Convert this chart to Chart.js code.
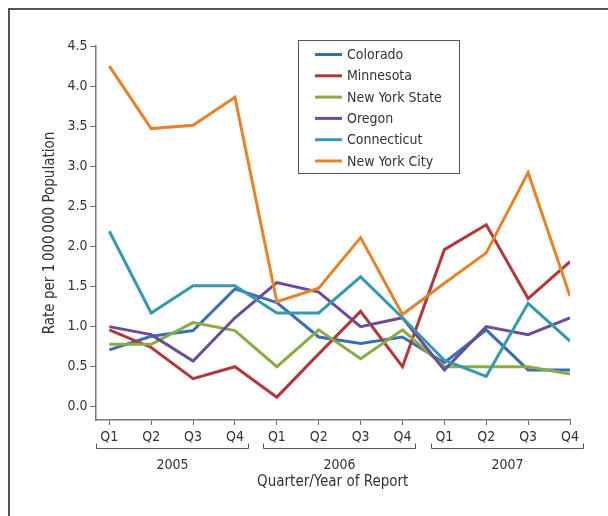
<!DOCTYPE html>
<html>
<head>
<meta charset="utf-8">
<script src="https://cdn.jsdelivr.net/npm/chart.js@4"></script>
<style>
  body{margin:0;background:#fff;}
  #wrap{position:relative;width:608px;height:516px;overflow:hidden;}
  #frame{position:absolute;left:8px;top:8px;width:620px;height:540px;border-top:2px solid #555;border-left:2px solid #555;}
  canvas{position:absolute;left:0;top:0;}
</style>
</head>
<body>
<div id="wrap">
  <div id="frame"></div>
  <canvas id="c" width="608" height="516"></canvas>
</div>
<script>
const FONT = '"DejaVu Sans Condensed", "Liberation Sans", sans-serif';

// data
const quarters = ['Q1','Q2','Q3','Q4','Q1','Q2','Q3','Q4','Q1','Q2','Q3','Q4'];
const years = ['2005','2006','2007'];
const yTicks = [0,0.5,1,1.5,2,2.5,3,3.5,4,4.5];

const seriesNames = ['Colorado','Minnesota','New York State','Oregon','Connecticut','New York City'];
const seriesColors = ['#3d6fb0','#b03a3a','#8aac43','#6b4c97','#3799b0','#e5832b'];

const colorado    = [0.71,0.88,0.95,1.47,1.30,0.87,0.79,0.87,0.55,0.96,0.46,0.46];
const minnesota   = [0.96,0.74,0.35,0.50,0.12,0.66,1.19,0.50,1.96,2.27,1.35,1.81];
const nyState     = [0.78,0.78,1.05,0.95,0.50,0.96,0.60,0.96,0.50,0.50,0.50,0.41];
const oregon      = [1.00,0.90,0.57,1.11,1.55,1.43,1.00,1.11,0.46,1.00,0.90,1.11];
const connecticut = [2.19,1.17,1.51,1.51,1.17,1.17,1.62,1.11,0.58,0.38,1.29,0.82];
const nyCity      = [4.25,3.47,3.51,3.86,1.31,1.48,2.11,1.15,1.54,1.92,2.92,1.38];

const seriesValues = [colorado,minnesota,nyState,oregon,connecticut,nyCity];

const datasets = seriesValues.map((vals,i)=>({
  label: seriesNames[i],
  data: vals.map((v,j)=>({x:j,y:v})),
  borderColor: seriesColors[i],
  backgroundColor: seriesColors[i],
  borderWidth: 3,
  pointRadius: 0,
  tension: 0,
  borderJoinStyle: 'miter',
  order: seriesValues.length - i
}));

// brackets, year labels and legend box
const extras = {
  id:'extras',
  afterDraw(chart){
    const ctx = chart.ctx;
    const xs = chart.scales.x;
    const bottom = chart.chartArea.bottom;
    ctx.save();
    ctx.strokeStyle = '#555';
    ctx.lineWidth = 1;
    ctx.fillStyle = '#333';
    ctx.font = '14px ' + FONT;
    ctx.textAlign = 'center';
    ctx.textBaseline = 'middle';
    years.forEach((yr,k)=>{
      const x1 = Math.round(xs.getPixelForValue(4*k - 0.33)) + 0.5;
      const x2 = Math.round(xs.getPixelForValue(4*k + 3.31)) + 0.5;
      const y = Math.round(bottom + 28) + 0.5;
      ctx.beginPath();
      ctx.moveTo(x1, y - 5);
      ctx.lineTo(x1, y);
      ctx.lineTo(x2, y);
      ctx.lineTo(x2, y - 5);
      ctx.stroke();
      ctx.fillText(yr, (x1 + x2) / 2, bottom + 45);
    });

    // legend
    const bx = 298.5, by = 40.5, bw = 161, bh = 133;
    ctx.strokeStyle = '#555';
    ctx.strokeRect(bx, by, bw, bh);
    ctx.textAlign = 'left';
    ctx.font = '14px ' + FONT;
    chart.data.datasets.forEach((ds,i)=>{
      const y = 54.5 + i * 21.3;
      ctx.strokeStyle = ds.borderColor;
      ctx.lineWidth = 3;
      ctx.beginPath();
      ctx.moveTo(315, y);
      ctx.lineTo(342, y);
      ctx.stroke();
      ctx.fillStyle = '#333';
      ctx.fillText(ds.label, 347, y + 1);
    });
    ctx.restore();
  }
};

new Chart(document.getElementById('c'), {
  type: 'line',
  data: { datasets },
  plugins: [extras],
  options: {
    responsive: false,
    animation: false,
    layout: { padding: { left: 10, top: 46, right: 38, bottom: 0 } },
    plugins: { legend: { display: false }, tooltip: { enabled: false } },
    scales: {
      x: {
        type: 'linear',
        min: -0.33,
        max: 11,
        afterFit(s){ s.height = 96; },
        afterBuildTicks(s){ s.ticks = quarters.map((q,i)=>({value:i})); },
        grid: { display: true, drawOnChartArea: false, drawTicks: true, tickLength: 5, color: '#666', lineWidth: 1 },
        border: { display: true, color: '#777', width: 1.5 },
        ticks: {
          autoSkip: false, maxRotation: 0, padding: 4, color: '#333',
          font: { family: FONT, size: 14 },
          callback: (v,i)=>quarters[i]
        },
        title: {
          display: true, text: 'Quarter/Year of Report', color: '#333',
          font: { family: FONT, size: 15 },
          padding: { top: 0, bottom: 25 }
        }
      },
      y: {
        min: -0.165,
        max: 4.5,
        afterFit(s){ s.width = 85.5; },
        afterBuildTicks(s){ s.ticks = yTicks.map(v=>({value:v})); },
        grid: { display: true, drawOnChartArea: false, drawTicks: true, tickLength: 5, color: '#666', lineWidth: 1 },
        border: { display: true, color: '#777', width: 1.5 },
        ticks: {
          padding: 3, color: '#333',
          font: { family: FONT, size: 14 },
          callback: v=>v.toFixed(1)
        },
        title: {
          display: true, text: 'Rate per 1\u2009000\u2009000 Population', color: '#333',
          font: { family: FONT, size: 15 },
          padding: { top: 31, bottom: 0 }
        }
      }
    }
  }
});
</script>
</body>
</html>
